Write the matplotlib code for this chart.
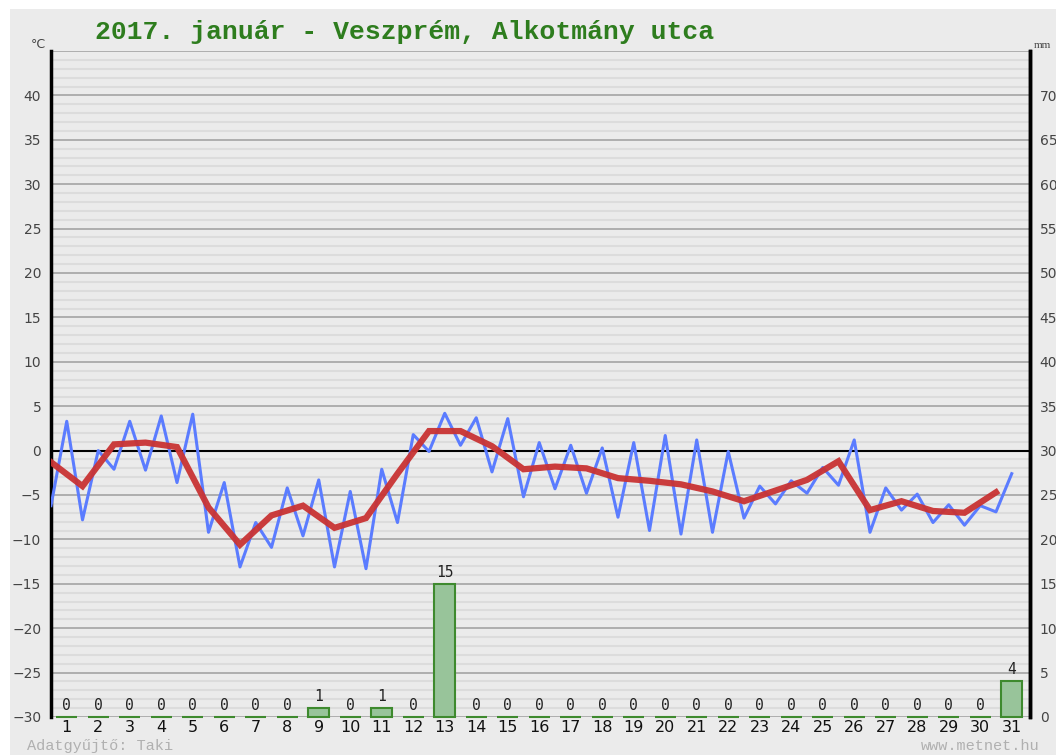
import matplotlib.pyplot as plt
import numpy as np
from matplotlib.patches import Rectangle

# Veszprém, 2017 January - daily data
days = list(range(1, 32))
rain_mm = [0, 0, 0, 0, 0, 0, 0, 0, 1, 0, 1, 0, 15, 0, 0, 0,
           0, 0, 0, 0, 0, 0, 0, 0, 0, 0, 0, 0, 0, 0, 4]

# two readings per day (night minimum / afternoon maximum), °C
temp_halfday = [-6.2, 3.3, -7.8, 0.0, -2.1, 3.3, -2.2, 3.9, -3.6, 4.1, -9.2, -3.6,
                -13.1, -8.1, -10.9, -4.2, -9.6, -3.3, -13.1, -4.6, -13.3, -2.1, -8.1,
                1.8, -0.1, 4.2, 0.6, 3.7, -2.4, 3.6, -5.2, 0.9, -4.3, 0.6, -4.8, 0.3,
                -7.5, 0.9, -9.0, 1.7, -9.4, 1.2, -9.2, -0.1, -7.6, -4.0, -6.0, -3.4,
                -4.8, -1.9, -3.9, 1.2, -9.2, -4.2, -6.7, -4.9, -8.1, -6.1, -8.4, -6.2,
                -6.9, -2.6]

# daily mean temperature, °C
temp_mean = [-1.3, -4.0, 0.7, 0.9, 0.4, -6.4, -10.6, -7.3, -6.2, -8.7, -7.6, -2.6,
             2.2, 2.2, 0.5, -2.1, -1.8, -2.0, -3.1, -3.4, -3.8, -4.6, -5.7, -4.5,
             -3.3, -1.2, -6.7, -5.7, -6.8, -7.0, -4.7]

bg = "#ebebeb"
fig = plt.figure(figsize=(10.56, 7.55), dpi=100, facecolor="white")
fig.patches.append(Rectangle((10 / 1056, 0), 1, 1 - 9 / 755, transform=fig.transFigure,
                             facecolor=bg, edgecolor="none", zorder=-10))

ax = fig.add_axes([51 / 1056, 1 - 717 / 755, 979 / 1056, 666 / 755])
ax.set_facecolor(bg)
ax.set_xlim(0.5, 31.58)
ax.set_ylim(-30, 45)

# grid: 1 °C minor, 5 °C major, 0 °C black
for t in range(-30, 46):
    if t == 0:
        continue
    if t % 5 == 0:
        ax.axhline(t, color="#a3a3a3", lw=1.2, zorder=1)
    else:
        ax.axhline(t, color="#dcdcdc", lw=1.5, zorder=0.5)
ax.axhline(0, color="black", lw=1.5, zorder=2)

x_half = np.arange(0.5, 31.01, 0.5)
x_mean = np.arange(0.5, 31, 1.0)
ax.plot(x_half, temp_halfday, color="#5b7cff", lw=2.2, zorder=3)
ax.plot(x_mean, temp_mean, color="#c93333", lw=4.5, alpha=0.95, zorder=4,
        solid_joinstyle="miter")

ax.set_yticks(range(-30, 41, 5))
ax.tick_params(axis="y", length=0, pad=7, labelsize=10, labelcolor="#444444")
ax.set_xticks(days)
ax.set_xticklabels([str(d) for d in days])
ax.tick_params(axis="x", length=0, pad=2, labelsize=11.5, labelcolor="#111111")

for side in ("top", "bottom"):
    ax.spines[side].set_visible(False)
for side in ("left", "right"):
    ax.spines[side].set_linewidth(2.5)
    ax.spines[side].set_color("black")

# precipitation on the right-hand mm scale
ax2 = ax.twinx()
ax2.set_ylim(0, 75)
ax2.set_xlim(ax.get_xlim())
ax2.patch.set_visible(False)
bars = ax2.bar(days, rain_mm, width=0.68, color="#98c49a", edgecolor="#3e8a2e",
               linewidth=1.5, zorder=3)
for b in bars:
    b.set_clip_on(False)
for d, v in zip(days, rain_mm):
    ax2.annotate(str(v), (d, v), xytext=(0, 3), textcoords="offset points",
                 ha="center", va="bottom", fontsize=10.5, family="DejaVu Sans Mono",
                 color="#222222")
ax2.set_yticks(range(0, 71, 5))
ax2.tick_params(axis="y", length=0, pad=7, labelsize=10, labelcolor="#444444")
for side in ("top", "bottom", "left"):
    ax2.spines[side].set_visible(False)
ax2.spines["right"].set_linewidth(2.5)

fig.text(95 / 1056, 1 - 32 / 755, "2017. január - Veszprém, Alkotmány utca",
         family="Liberation Mono", weight="bold", fontsize=19, color="#2e7d1e",
         va="center", ha="left")
fig.text(38 / 1056, 1 - 44 / 755, "°C", fontsize=9, color="#444444",
         ha="center", va="center")
fig.text(1034 / 1056, 1 - 45 / 755, "mm", fontsize=8, color="#444444",
         family="Liberation Serif", ha="left", va="center")
fig.text(27 / 1056, 1 - 746 / 755, "Adatgyűjtő: Taki", family="Liberation Mono",
         fontsize=11, color="#b0b0b0", ha="left", va="center")
fig.text(1040 / 1056, 1 - 746 / 755, "www.metnet.hu", family="Liberation Mono",
         fontsize=11, color="#b0b0b0", ha="right", va="center")

fig.savefig("out.png", dpi=100, facecolor=fig.get_facecolor())
